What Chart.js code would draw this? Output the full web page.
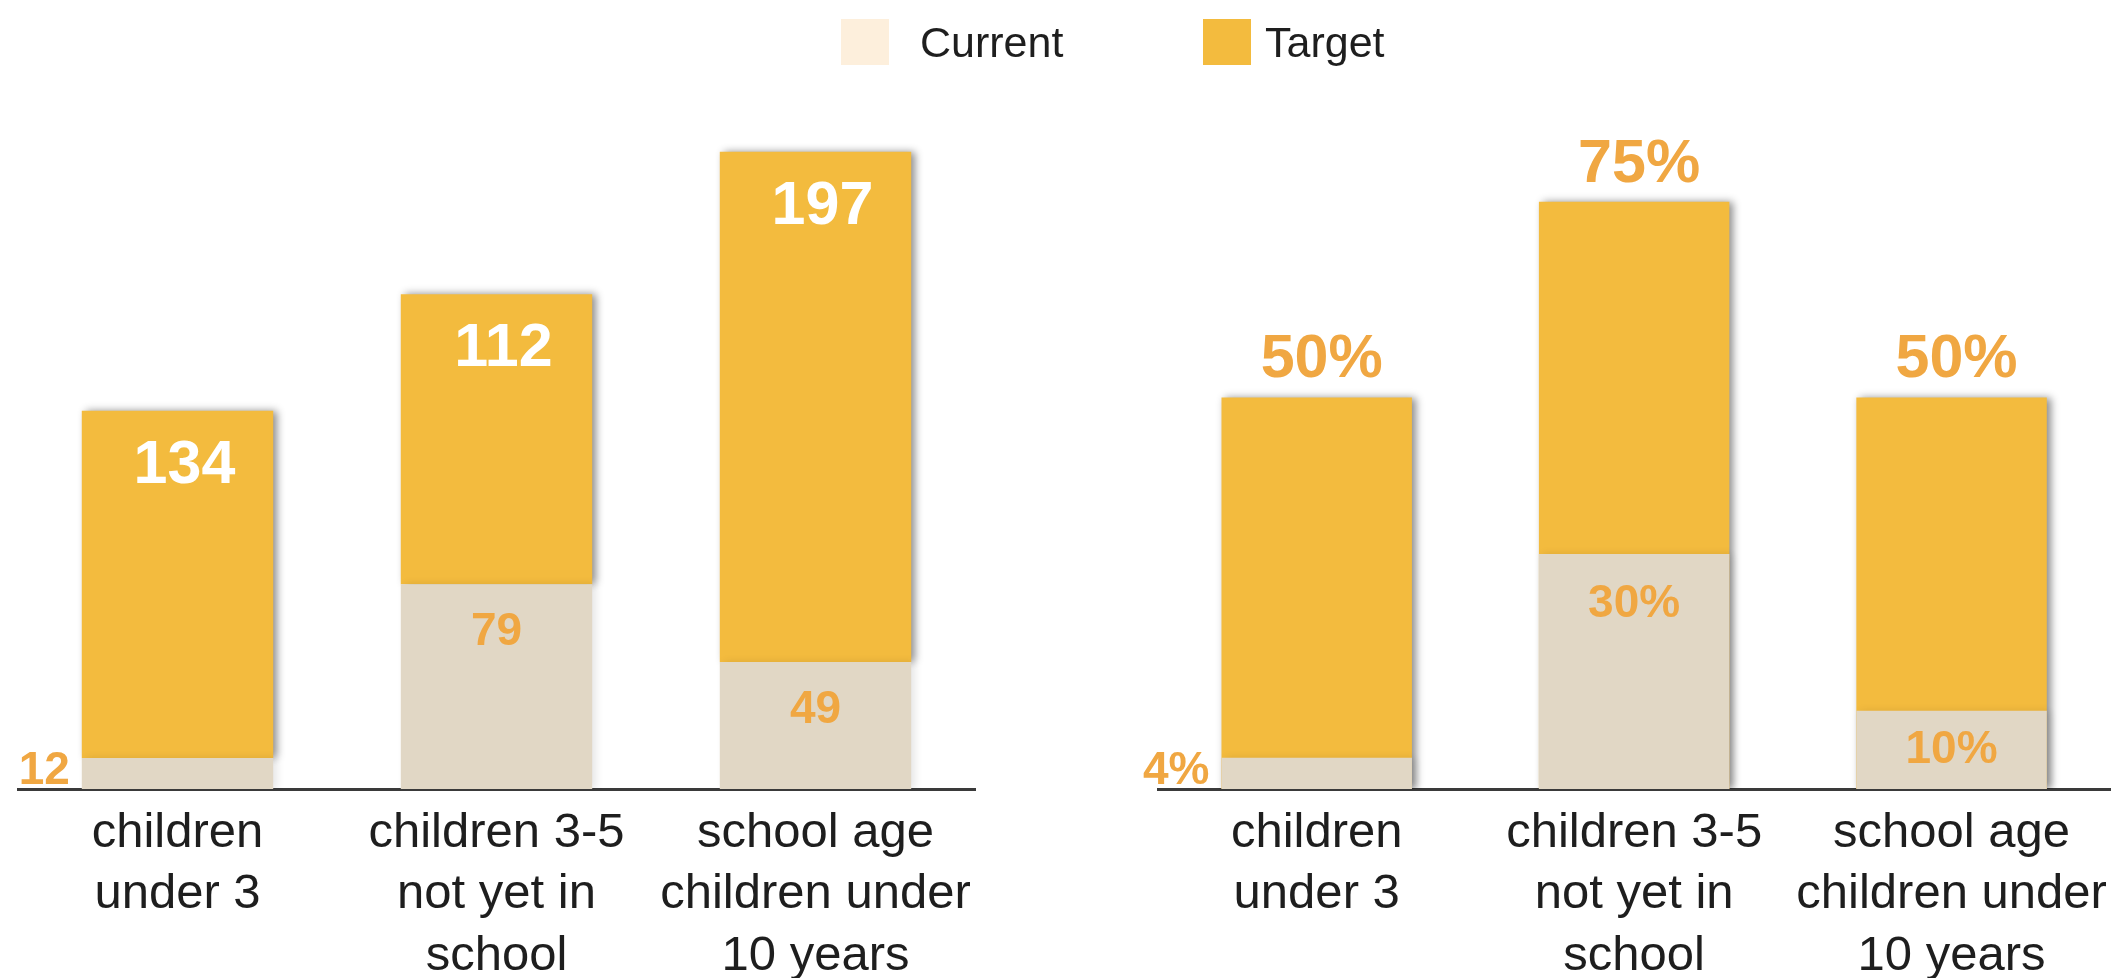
<!DOCTYPE html>
<html>
<head>
<meta charset="utf-8">
<script src="https://cdn.jsdelivr.net/npm/chart.js@4.4.0/dist/chart.umd.min.js"></script>
<style>
  html, body { margin: 0; padding: 0; background: #fff; overflow: hidden; }
  #wrap { position: relative; width: 2121px; height: 978px; }
  canvas { position: absolute; top: 0; }
  #count_chart { left: 0; }
  #share_chart { left: 1060px; }
  .key { position: absolute; top: 19px; width: 48px; height: 46px; }
  .key_text { position: absolute; top: 21px; font: 43px/43px "Liberation Sans", Arial, sans-serif; color: #1e1e1e; }
</style>
</head>
<body>
<div id="wrap">
  <canvas id="count_chart" width="1060" height="978"></canvas>
  <canvas id="share_chart" width="1061" height="978"></canvas>
  <div id="legend"></div>
</div>
<script>
// données
var categories = [
  ["children", "under 3"],
  ["children 3-5", "not yet in", "school"],
  ["school age", "children under", "10 years"]
];
var series_names = ["Current", "Target"];
var count_current = [12, 79, 49];
var count_target = [134, 112, 197];   // empilé au-dessus de current
var share_current = [4, 30, 10];
var share_target = [50, 75, 50];

var col_current = "#E1D7C5";
var col_current_key = "#FDEFDC";
var col_target = "#F3BB3E";
var col_label = "#F0A742";

//  Légende (texte html)
var legend = document.getElementById("legend");
var key_pos = [[841, 920], [1203, 1265]];
[col_current_key, col_target].forEach(function (c, i) {
  var box = document.createElement("div");
  box.className = "key";
  box.style.left = key_pos[i][0] + "px";
  box.style.background = c;
  legend.appendChild(box);
  var txt = document.createElement("span");
  txt.className = "key_text";
  txt.style.left = key_pos[i][1] + "px";
  txt.textContent = series_names[i];
  legend.appendChild(txt);
});

//  Ombre des barres
var bar_shadow = {
  id: "bar_shadow",
  beforeDatasetDraw: function (chart, args) {
    var ds = chart.data.datasets[args.index];
    var ctx = chart.ctx;
    ctx.save();
    ctx.shadowColor = ds.shadowTint;
    ctx.shadowBlur = 8;
    ctx.shadowOffsetX = 4;
    ctx.shadowOffsetY = 0;
  },
  afterDatasetDraw: function (chart) {
    chart.ctx.restore();
  }
};

//  Étiquettes des valeurs
var bar_labels = {
  id: "bar_labels",
  afterDatasetsDraw: function (chart, args, opts) {
    var ctx = chart.ctx;
    chart.data.datasets.forEach(function (ds, di) {
      var meta = chart.getDatasetMeta(di);
      meta.data.forEach(function (bar, i) {
        var txt = ds.data[i] + opts.suffix;
        var h = bar.base - bar.y;
        ctx.save();
        ctx.font = "bold " + ds.labelSize + 'px "Liberation Sans", Arial, sans-serif';
        ctx.fillStyle = ds.labelColor;
        if (ds.labelPlace === "above") {
          ctx.textAlign = "center";
          ctx.textBaseline = "middle";
          ctx.fillText(txt, bar.x + 5, bar.y - 37);
        } else if (h < 60) {
          ctx.textAlign = "right";
          ctx.textBaseline = "alphabetic";
          ctx.fillText(txt, bar.x - bar.width / 2 - 12, bar.base - 5);
        } else {
          ctx.textAlign = "center";
          ctx.textBaseline = "middle";
          var y = Math.min(bar.y + ds.labelDrop, (bar.y + bar.base) / 2);
          ctx.fillText(txt, bar.x + ds.labelShift, y);
        }
        ctx.restore();
      });
    });
  }
};

function x_axis() {
  return {
    stacked: true,
    grid: { display: false, drawTicks: false },
    border: { display: true, color: "#3a3a3a", width: 3 },
    ticks: {
      color: "#1e1e1e",
      padding: 13,
      maxRotation: 0,
      autoSkip: false,
      font: { family: '"Liberation Sans", Arial, sans-serif', size: 49, lineHeight: 1.265 }
    },
    afterFit: function (scale) { scale.height = 189; }
  };
}

//  Graphique des effectifs (empilé)
var count_chart = new Chart(document.getElementById("count_chart"), {
  type: "bar",
  data: {
    labels: categories,
    datasets: [
      {
        label: series_names[0],
        data: count_current,
        backgroundColor: col_current,
        shadowTint: "rgba(0,0,0,0.10)",
        labelColor: col_label, labelSize: 46, labelShift: 0, labelDrop: 48
      },
      {
        label: series_names[1],
        data: count_target,
        backgroundColor: col_target,
        shadowTint: "rgba(0,0,0,0.45)",
        labelColor: "#fff", labelSize: 61, labelShift: 7, labelDrop: 55
      }
    ]
  },
  options: {
    responsive: false,
    animation: false,
    events: [],
    layout: { padding: { top: 100, left: 18, right: 85, bottom: 0 } },
    datasets: { bar: { barPercentage: 0.6, categoryPercentage: 1.0 } },
    scales: {
      x: x_axis(),
      y: { display: false, stacked: true, min: 0, max: 266 }
    },
    plugins: {
      legend: { display: false },
      tooltip: { enabled: false },
      bar_labels: { suffix: "" }
    }
  },
  plugins: [bar_shadow, bar_labels]
});

//  Graphique des pourcentages (barres superposées)
var share_chart = new Chart(document.getElementById("share_chart"), {
  type: "bar",
  data: {
    labels: categories,
    datasets: [
      {
        label: series_names[0],
        data: share_current,
        backgroundColor: col_current,
        shadowTint: "rgba(0,0,0,0.10)",
        labelColor: col_label, labelSize: 46, labelShift: 0, labelDrop: 50
      },
      {
        label: series_names[1],
        data: share_target,
        backgroundColor: col_target,
        shadowTint: "rgba(0,0,0,0.45)",
        labelColor: col_label, labelSize: 61, labelPlace: "above"
      }
    ]
  },
  options: {
    responsive: false,
    animation: false,
    events: [],
    layout: { padding: { top: 100, left: 98, right: 7, bottom: 0 } },
    datasets: { bar: { barPercentage: 0.6, categoryPercentage: 1.0, grouped: false } },
    scales: {
      x: x_axis(),
      y: { display: false, stacked: false, min: 0, max: 88 }
    },
    plugins: {
      legend: { display: false },
      tooltip: { enabled: false },
      bar_labels: { suffix: "%" }
    }
  },
  plugins: [bar_shadow, bar_labels]
});
</script>
</body>
</html>
